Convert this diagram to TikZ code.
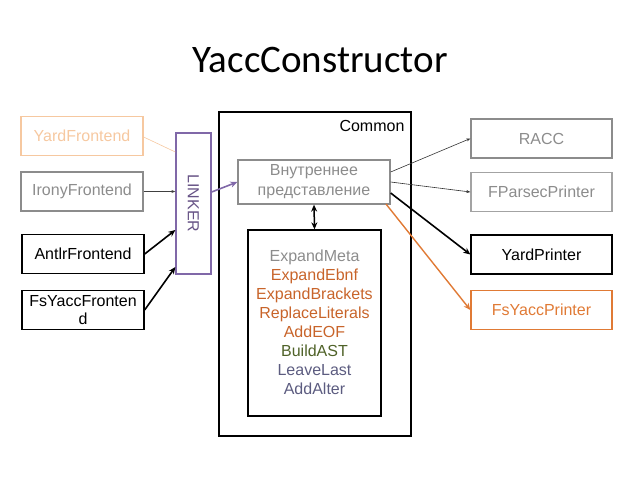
\documentclass[tikz,border=0pt]{standalone}
\usepackage{fontspec}
\setmainfont{Liberation Sans}
\newfontfamily\titlefont{Carlito}
\usetikzlibrary{arrows.meta}
\definecolor{lorange}{HTML}{F6C8A0}
\definecolor{orng}{HTML}{E07A35}
\definecolor{torng}{HTML}{C8642A}
\definecolor{gry}{HTML}{8C8C8C}
\definecolor{prp}{HTML}{8068A8}
\definecolor{olive}{HTML}{4F6228}
\definecolor{slate}{HTML}{5C5C80}
\tikzset{
  box/.style={draw, inner sep=0pt, minimum width=122pt, minimum height=39pt, font=\fontsize{16}{18}\selectfont, align=center},
  thinarr/.style={-{Stealth[length=4pt,width=3pt]}, line width=0.6pt},
  thickarr/.style={-{Stealth[length=7pt,width=6pt]}, line width=1.6pt},
  lbl/.style={font=\fontsize{16}{19}\selectfont}
}
\begin{document}
\begin{tikzpicture}[x=1pt,y=-1pt]
\useasboundingbox (0,0) rectangle (640,480);
\node[font=\titlefont\fontsize{39}{44}\selectfont] (title) at (320,60) {YaccConstructor};
% left frontends
\node[box, draw=lorange, line width=1.3pt, text=lorange] (yardf) at (82,136) {YardFrontend};
\node[box, draw=gry, line width=1.3pt, text=gry] (ironyf) at (82,191.5) {IronyFrontend};
\node[box, draw=black, line width=1.3pt] (antlrf) at (83,254) {AntlrFrontend};
\node[box, draw=black, line width=1.3pt, align=center] (fsyf) at (83,310) {FsYaccFronten\\d};
% linker
\node[draw=prp, line width=1.3pt, minimum width=35pt, minimum height=141pt, inner sep=0pt] (linker) at (193.5,203.5) {};
\node[rotate=-90, text=prp!80!black, lbl] (linkertxt) at (193.5,203.5) {LINKER};
% common
\node[draw=black, line width=1.3pt, minimum width=192pt, minimum height=324pt, inner sep=0pt] (common) at (315,274) {};
\node[lbl, anchor=north east, inner sep=0pt] (commontxt) at ([xshift=-7pt,yshift=-9pt]common.north east) {Common};
\node[box, draw=gry, line width=1.3pt, text=gry, minimum width=152pt, minimum height=44pt, font=\fontsize{16}{20}\selectfont] (inner) at (314,182) {Внутреннее\\представление};
\node[draw=black, line width=1.3pt, minimum width=133pt, minimum height=186pt, inner sep=0pt] (passes) at (314.5,323) {};
\node[lbl, align=center, anchor=north] (passtxt) at (314.5,246) {%
\textcolor{gry}{ExpandMeta}\\
\textcolor{torng}{ExpandEbnf}\\
\textcolor{torng}{ExpandBrackets}\\
\textcolor{torng}{ReplaceLiterals}\\
\textcolor{torng}{AddEOF}\\
\textcolor{olive}{BuildAST}\\
\textcolor{slate}{LeaveLast}\\
\textcolor{slate}{AddAlter}};
% right printers
\node[box, draw=gry, line width=1.3pt, text=gry, minimum width=141pt] (racc) at (541.5,138.5) {RACC};
\node[box, draw=gry!80, line width=1.3pt, text=gry, minimum width=141pt] (fparsec) at (541.5,192) {FParsecPrinter};
\node[box, draw=black, line width=1.3pt, minimum width=141pt] (yardp) at (541.5,254.5) {YardPrinter};
\node[box, draw=orng, line width=1.3pt, text=orng, minimum width=141pt] (fsyp) at (541.5,310) {FsYaccPrinter};
% connectors left
\draw[lorange, line width=0.6pt] (yardf.east |- 0,137) -- (linker.west |- 0,152);
\draw[thinarr, black!75] (ironyf.east) -- (linker.west |- ironyf.east);
\draw[thickarr] (antlrf.east) -- (linker.west |- 0,230);
\draw[thickarr] (fsyf.east) -- (linker.west |- 0,267);
\draw[thickarr, prp] (linker.east |- 0,192) -- (inner.west |- 0,182);
\draw[{Stealth[length=7pt,width=6pt]}-{Stealth[length=7pt,width=6pt]}, line width=1.5pt] (inner.south) -- (passes.north);
% connectors right
\draw[thinarr, black!80] (inner.east |- 0,172) -- (racc.west);
\draw[thinarr, black!80] (inner.east |- 0,182) -- (fparsec.west);
\draw[thickarr] (inner.east |- 0,193) -- (yardp.west);
\draw[thickarr, orng, line width=1.4pt] (386,204) -- (fsyp.west);
\end{tikzpicture}
\end{document}
